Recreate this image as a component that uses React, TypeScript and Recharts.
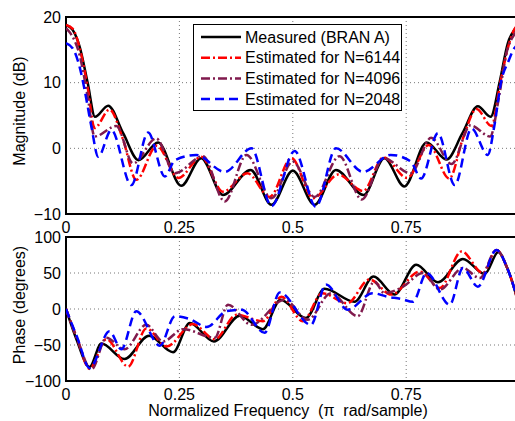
import { LineChart, Line, XAxis, YAxis, CartesianGrid, ReferenceArea } from "recharts";

// [normalized frequency, value]
const magMeasured = [
  [0, 18.8], [0.015, 18.0], [0.03, 15.5], [0.048, 9.9], [0.064, 4.8], [0.093, 6.5], [0.126, 2.3],
  [0.16, -1.8], [0.203, 0.9], [0.254, -5.7], [0.298, -1.5], [0.346, -7.1], [0.407, -3.3], [0.453, -8.6],
  [0.5, -3.4], [0.548, -8.6], [0.595, -3.3], [0.656, -7.1], [0.702, -1.5], [0.746, -5.8], [0.795, 0.9],
  [0.839, -1.7], [0.874, 2.3], [0.908, 6.4], [0.936, 4.8], [0.956, 10.1], [0.974, 16.0], [0.989, 18.1], [1, 18.8],
];
const mag6144 = [
  [0, 18.8], [0.015, 18.2], [0.03, 15.3], [0.048, 9.2], [0.063, 3.1], [0.096, 5.9], [0.125, 1.5],
  [0.155, -4.8], [0.2, 0.4], [0.248, -4.5], [0.298, -1.3], [0.346, -6.6], [0.4, -3.8], [0.449, -7.4],
  [0.497, -1.5], [0.545, -7.6], [0.6, -4.0], [0.655, -6.5], [0.7, -1.4], [0.752, -4.5], [0.8, 0.5],
  [0.845, -4.6], [0.875, 1.5], [0.905, 6.0], [0.938, 3.4], [0.958, 10.2], [0.975, 15.5], [0.99, 18.3], [1, 18.8],
];
const mag4096 = [
  [0, 18.3], [0.01, 17.5], [0.03, 14.2], [0.048, 7.8], [0.063, 1.8], [0.111, 3.4], [0.148, -2.3],
  [0.199, 1.5], [0.24, -3.8], [0.302, -1.2], [0.35, -8.1], [0.398, -1.0], [0.453, -7.6], [0.5, -2.0],
  [0.548, -7.4], [0.603, -1.2], [0.652, -7.8], [0.7, -1.5], [0.76, -3.8], [0.805, 1.6], [0.85, -2.4],
  [0.892, 3.5], [0.935, 1.8], [0.955, 8.0], [0.97, 14.2], [0.99, 17.5], [1, 18.3],
];
const mag2048 = [
  [0, 16.0], [0.015, 15.2], [0.03, 12.4], [0.041, 8.9], [0.056, 3.3], [0.071, -1.3], [0.1, 2.8],
  [0.144, -5.6], [0.181, 2.4], [0.218, -4.3], [0.24, -1.8], [0.287, -1.0], [0.35, -3.6], [0.409, 0],
  [0.453, -8.8], [0.504, -0.4], [0.551, -8.9], [0.595, 0], [0.655, -3.6], [0.716, -1.0], [0.76, -2.0],
  [0.783, -4.6], [0.82, 2.3], [0.857, -5.6], [0.894, 3.0], [0.93, -1.0], [0.944, 3.3], [0.96, 10.4],
  [0.975, 13.2], [0.988, 15.2], [1, 16.0],
];

const phaseMeasured = [
  [0, 0], [0.023, -42], [0.052, -80.5], [0.078, -48], [0.129, -69.5], [0.183, -37], [0.236, -60],
  [0.273, -19.5], [0.326, -45], [0.383, -9.3], [0.434, -28], [0.473, 13], [0.529, -12.5], [0.57, 28],
  [0.636, 10], [0.678, 45], [0.724, 20], [0.772, 61.5], [0.82, 37], [0.875, 69.5], [0.923, 48.6],
  [0.953, 79], [0.972, 58], [0.989, 27], [1, 0],
];
const phase6144 = [
  [0, 0], [0.025, -42], [0.052, -83], [0.089, -42], [0.137, -80], [0.177, -27], [0.222, -52],
  [0.28, -21], [0.328, -42], [0.376, -8], [0.434, -17], [0.475, 17], [0.522, -17], [0.565, 22],
  [0.62, 8], [0.669, 41], [0.717, 20], [0.78, 52], [0.824, 29], [0.872, 80], [0.919, 50],
  [0.949, 82], [0.972, 58], [0.989, 27], [1, 0],
];
const phase4096 = [
  [0, 0], [0.025, -42], [0.056, -84], [0.089, -40], [0.129, -56], [0.177, -22], [0.214, -45],
  [0.258, -28], [0.328, -40], [0.357, 6], [0.409, -22], [0.482, 13], [0.533, -15], [0.584, 22],
  [0.643, -10], [0.68, 38], [0.702, 22], [0.743, 31], [0.787, 50], [0.824, 27], [0.875, 57],
  [0.912, 43], [0.949, 82], [0.972, 58], [0.989, 27], [1, 0],
];
const phase2048 = [
  [0, 0], [0.025, -40], [0.052, -82], [0.096, -31], [0.122, -56], [0.155, -3], [0.207, -51],
  [0.24, -10], [0.273, -14], [0.31, -25], [0.354, -3], [0.387, -1], [0.438, -33], [0.471, 23],
  [0.54, -22], [0.573, 34], [0.621, -1], [0.676, 22], [0.709, 17], [0.739, 14], [0.765, 10],
  [0.795, 50], [0.846, 6], [0.875, 57], [0.908, 31], [0.949, 82], [0.972, 58], [0.989, 27], [1, 0],
];

const freqTicks = [0, 0.25, 0.5, 0.75];
const magTicks = [-10, 0, 10, 20];
const phaseTicks = [-100, -50, 0, 50, 100];

const seriesNames = [
  "Measured (BRAN A)",
  "Estimated for N=6144",
  "Estimated for N=4096",
  "Estimated for N=2048",
];
const seriesStyle = [
  { color: "#000000", dash: undefined },
  { color: "#ff0000", dash: "9 3 2 3" },
  { color: "#801a4d", dash: "9 3 2 3" },
  { color: "#0000ff", dash: "9 5" },
];

const FONT = "'Liberation Sans', Arial, Helvetica, sans-serif";
const toPts = (pairs: number[][]) => pairs.map(([f, v]) => ({ f, v }));
const minus = (v: number) => (v < 0 ? "\u2212" + Math.abs(v) : String(v));
const tickStyle = { fill: "#000", fontSize: 16, fontFamily: FONT };

const Panel = ({ top, height, xAxisHeight, domain, yTicks, series }: any) => (
  <div style={{ position: "absolute", left: 0, top }}>
    <LineChart width={530} height={height} margin={{ top: 17, right: 10.4, bottom: 0, left: 0 }}>
      <CartesianGrid stroke="#777" strokeDasharray="1 3" />
      <XAxis
        dataKey="f"
        type="number"
        domain={[0, 1]}
        ticks={freqTicks}
        allowDataOverflow
        height={xAxisHeight}
        axisLine={false}
        tickLine={false}
        tickSize={0}
        tickMargin={8}
        tick={tickStyle}
        tickFormatter={(v: number) => String(v)}
      />
      <YAxis
        type="number"
        domain={domain}
        ticks={yTicks}
        width={66}
        axisLine={false}
        tickLine={false}
        tickSize={0}
        tickMargin={5}
        tick={tickStyle}
        tickFormatter={minus}
      />
      {series.map((s: number[][], i: number) => (
        <Line
          key={i}
          data={toPts(s)}
          dataKey="v"
          type="monotone"
          stroke={seriesStyle[i].color}
          strokeWidth={2.5}
          strokeDasharray={seriesStyle[i].dash}
          dot={false}
          isAnimationActive={false}
        />
      ))}
      <ReferenceArea x1={0} x2={1} y1={domain[0]} y2={domain[1]} fill="none" stroke="#000" strokeWidth={2} ifOverflow="visible" />
    </LineChart>
  </div>
);

export default function App() {
  return (
    <div style={{ position: "absolute", left: 0, top: 0, width: 515, height: 421, overflow: "hidden", background: "#fff" }}>
      <Panel top={0} height={240} xAxisHeight={26} domain={[-10, 20]} yTicks={magTicks}
        series={[magMeasured, mag6144, mag4096, mag2048]} />
      <Panel top={220} height={201} xAxisHeight={40} domain={[-100, 100]} yTicks={phaseTicks}
        series={[phaseMeasured, phase6144, phase4096, phase2048]} />
      <svg width={515} height={421} style={{ position: "absolute", left: 0, top: 0, pointerEvents: "none" }}>
        <g fontFamily={FONT} fontSize={16} fill="#000">
          <text x={25} y={111} textAnchor="middle" transform="rotate(-90 25 111)">Magnitude (dB)</text>
          <text x={25} y={305} textAnchor="middle" transform="rotate(-90 25 305)">Phase (degrees)</text>
          <text x={288} y={416} textAnchor="middle">{"Normalized Frequency\u00a0\u00a0(\u03c0\u00a0\u00a0rad/sample)"}</text>
        </g>
      </svg>
      <div style={{ position: "absolute", left: 193, top: 24, width: 209, height: 87, border: "1.5px solid #000", background: "#fff", boxSizing: "border-box" }}>
        <svg width={207} height={84}>
          {seriesNames.map((name, i) => (
            <g key={name}>
              <line x1={7} x2={47} y1={12 + i * 20.7} y2={12 + i * 20.7} stroke={seriesStyle[i].color}
                strokeWidth={2.5} strokeDasharray={seriesStyle[i].dash} />
              <text x={51} y={12 + i * 20.7} dy="0.35em" fontFamily={FONT} fontSize={16} fill="#000">{name}</text>
            </g>
          ))}
        </svg>
      </div>
    </div>
  );
}
